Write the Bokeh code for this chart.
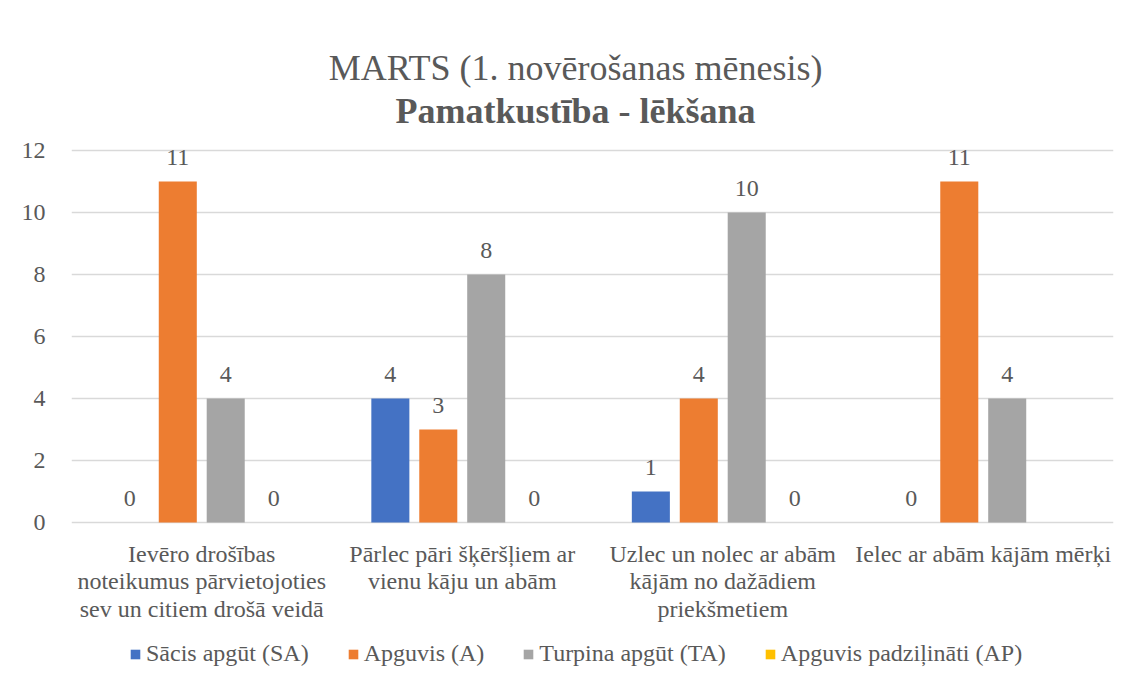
from bokeh.plotting import figure
from bokeh.models import (ColumnDataSource, FactorRange, Range1d, LabelSet, Label,
                          Legend, LegendItem, FixedTicker)
from bokeh.transform import dodge
from bokeh.core.properties import value
from bokeh.embed import file_html
from bokeh.resources import INLINE

categories = [
    "Ievēro drošības\nnoteikumus pārvietojoties\nsev un citiem drošā veidā",
    "Pārlec pāri šķēršļiem ar\nvienu kāju un abām",
    "Uzlec un nolec ar abām\nkājām no dažādiem\npriekšmetiem",
    "Ielec ar abām kājām mērķi",
]
series_names = ["Sācis apgūt (SA)", "Apguvis (A)", "Turpina apgūt (TA)", "Apguvis padziļināti (AP)"]
sa = [0, 4, 1, 0]
a = [11, 3, 4, 11]
ta = [4, 8, 10, 4]
ap = [0, 0, 0, None]
colors = ["#4472C4", "#ED7D31", "#A5A5A5", "#FFC000"]
title1 = "MARTS (1. novērošanas mēnesis)"
title2 = "Pamatkustība - lēkšana"
y_ticks = [0, 2, 4, 6, 8, 10, 12]

FONT = "Liberation Serif"
TXT = "#595959"
GRID = "#D9D9D9"

# frame covers the whole chart height: value 0 sits 161px above the bottom, 12 at 150px from top
p = figure(width=1128, height=683, x_range=FactorRange(*categories),
           y_range=Range1d(-161 / 31, 522 / 31),
           output_backend="svg", toolbar_location=None,
           min_border_left=71, min_border_right=15, min_border_top=0, min_border_bottom=0)
p.outline_line_color = None
p.background_fill_color = "white"
p.border_fill_color = "white"

p.xgrid.grid_line_color = None
p.ygrid.grid_line_color = GRID
p.ygrid.grid_line_width = 1.5
p.yaxis.ticker = FixedTicker(ticks=y_ticks)
p.ygrid.ticker = FixedTicker(ticks=y_ticks)
p.yaxis.axis_line_color = None
p.yaxis.major_tick_line_color = None
p.yaxis.minor_tick_line_color = None
p.yaxis.major_label_standoff = 20
p.yaxis.major_label_text_font = FONT
p.yaxis.major_label_text_font_size = "24px"
p.yaxis.major_label_text_color = TXT
p.xaxis.visible = False

offsets = [-0.276, -0.092, 0.092, 0.276]
all_vals = [sa, a, ta, ap]
items = []
for name, vals, col, off in zip(series_names, all_vals, colors, offsets):
    src = ColumnDataSource(dict(cat=categories, val=[v if v is not None else 0 for v in vals]))
    r = p.vbar(x=dodge("cat", off, range=p.x_range), top="val", width=0.146, source=src,
               fill_color=col, line_color=None)
    items.append(LegendItem(label=name, renderers=[r]))
    lab_cats = [c for c, v in zip(categories, vals) if v is not None]
    lab_vals = [v for v in vals if v is not None]
    lsrc = ColumnDataSource(dict(cat=lab_cats, val=lab_vals, txt=[str(v) for v in lab_vals]))
    p.add_layout(LabelSet(x=dodge("cat", off, range=p.x_range), y="val", text="txt", source=lsrc,
                          text_align="center", text_baseline="alphabetic", y_offset=17,
                          text_font=value(FONT), text_font_size="24px", text_color=TXT))

# category labels under the baseline
csrc = ColumnDataSource(dict(cat=categories, y=[0] * len(categories)))
p.text(x="cat", y="y", text="cat", source=csrc, y_offset=18,
       text_align="center", text_baseline="top", text_line_height=1.06,
       text_font=value(FONT), text_font_size="24px", text_color=TXT)

p.add_layout(Label(x=1.935, y=12, y_offset=83, text=title1, text_align="center",
                   text_baseline="alphabetic",
                   text_font=FONT, text_font_size="36px", text_color=TXT))
p.add_layout(Label(x=1.935, y=12, y_offset=40, text=title2, text_align="center",
                   text_baseline="alphabetic",
                   text_font=FONT, text_font_size="36px", text_font_style="bold",
                   text_color=TXT))

legend = Legend(items=items, orientation="horizontal", location=(58, 16),
                glyph_width=12, glyph_height=12, label_standoff=5, spacing=38,
                label_text_font=FONT, label_text_font_size="24px", label_text_color=TXT,
                border_line_color=None, background_fill_alpha=0, margin=0, padding=4)
p.add_layout(legend)

open("out.html", "w").write(file_html(p, INLINE))
